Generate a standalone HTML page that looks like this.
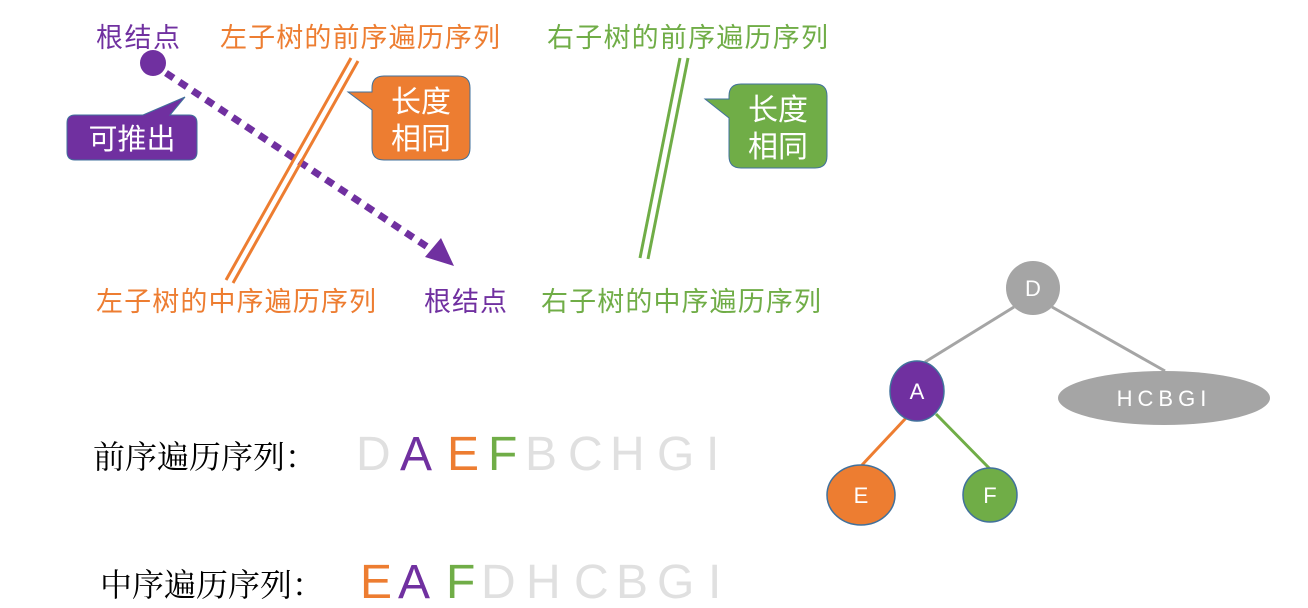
<!DOCTYPE html>
<html><head><meta charset="utf-8"><style>
html,body{margin:0;padding:0;background:#fff;}
svg{display:block}
.cn{font-family:"Liberation Sans","Noto Sans CJK SC",sans-serif;}
.sr{font-family:"Noto Serif CJK SC",serif;}
.lt{font-family:"Liberation Sans",sans-serif;}
</style></head><body>
<svg width="1308" height="608" viewBox="0 0 1308 608" xmlns="http://www.w3.org/2000/svg">
<g class="cn" font-size="27">
<text x="96" y="47" fill="#7030a0" textLength="84">根结点</text>
<text x="220" y="47" fill="#ed7d31" textLength="280">左子树的前序遍历序列</text>
<text x="547" y="47" fill="#70ad47" textLength="281">右子树的前序遍历序列</text>
<text x="96" y="311" fill="#ed7d31" textLength="280">左子树的中序遍历序列</text>
<text x="424" y="311" fill="#7030a0" textLength="83">根结点</text>
<text x="541" y="311" fill="#70ad47" textLength="280">右子树的中序遍历序列</text>
</g>
<circle cx="153" cy="63" r="13" fill="#7030a0"/>
<line x1="166" y1="73" x2="432" y2="250" stroke="#7030a0" stroke-width="7" stroke-dasharray="9,7"/>
<polygon points="454,266 425,257 441,238" fill="#7030a0"/>
<line x1="351" y1="58" x2="226" y2="280" stroke="#ed7d31" stroke-width="3"/>
<line x1="358" y1="61" x2="233" y2="283" stroke="#ed7d31" stroke-width="3"/>
<line x1="680" y1="58" x2="640" y2="258" stroke="#70ad47" stroke-width="3"/>
<line x1="688" y1="58" x2="648" y2="259" stroke="#70ad47" stroke-width="3"/>
<path d="M75,115 H143 L185,97 L170,115 H189 Q197,115 197,123 V152 Q197,160 189,160 H75 Q67,160 67,152 V123 Q67,115 75,115 Z" fill="#7030a0" stroke="#41719c" stroke-width="1"/>
<text class="cn" x="132" y="149" font-size="29" fill="#fff" text-anchor="middle">可推出</text>
<path d="M384,76 H458 Q470,76 470,88 V148 Q470,160 458,160 H384 Q372,160 372,148 V110 L348,92 L372,92 V88 Q372,76 384,76 Z" fill="#ed7d31" stroke="#41719c" stroke-width="1"/>
<text class="cn" x="421" y="112" font-size="30" fill="#fff" text-anchor="middle">长度</text>
<text class="cn" x="421" y="149" font-size="30" fill="#fff" text-anchor="middle">相同</text>
<path d="M741,84 H815 Q827,84 827,96 V156 Q827,168 815,168 H741 Q729,168 729,156 V118 L705,99 L729,99 V96 Q729,84 741,84 Z" fill="#70ad47" stroke="#41719c" stroke-width="1"/>
<text class="cn" x="778" y="120" font-size="30" fill="#fff" text-anchor="middle">长度</text>
<text class="cn" x="778" y="157" font-size="30" fill="#fff" text-anchor="middle">相同</text>
<line x1="1014" y1="307" x2="925" y2="362" stroke="#a5a5a5" stroke-width="3"/>
<line x1="1052" y1="307" x2="1165" y2="371" stroke="#a5a5a5" stroke-width="3"/>
<line x1="906" y1="418" x2="862" y2="465" stroke="#ed7d31" stroke-width="3"/>
<line x1="936" y1="414" x2="990" y2="469" stroke="#70ad47" stroke-width="3"/>
<circle cx="1033" cy="288" r="27" fill="#a5a5a5"/>
<text class="lt" x="1033" y="296" font-size="22" fill="#fff" text-anchor="middle">D</text>
<ellipse cx="917" cy="391" rx="27" ry="30" fill="#7030a0" stroke="#41719c" stroke-width="1.5"/>
<text class="lt" x="917" y="399" font-size="22" fill="#fff" text-anchor="middle">A</text>
<ellipse cx="1164" cy="398" rx="106" ry="27" fill="#a5a5a5"/>
<text class="lt" x="1164" y="406" font-size="22" fill="#fff" text-anchor="middle" letter-spacing="5">HCBGI</text>
<ellipse cx="861" cy="495" rx="34" ry="30" fill="#ed7d31" stroke="#41719c" stroke-width="1.5"/>
<text class="lt" x="861" y="503" font-size="22" fill="#fff" text-anchor="middle">E</text>
<ellipse cx="990" cy="495" rx="27" ry="27" fill="#70ad47" stroke="#41719c" stroke-width="1.5"/>
<text class="lt" x="990" y="503" font-size="22" fill="#fff" text-anchor="middle">F</text>
<text class="sr" x="93" y="468" font-size="32" fill="#000">前序遍历序列：</text>
<g class="lt" font-size="48">
<text x="356" y="470" fill="#e0e0e0">D</text>
<text x="400" y="470" fill="#7030a0">A</text>
<text x="447" y="470" fill="#ed7d31">E</text>
<text x="488" y="470" fill="#70ad47">F</text>
<text x="525" y="470" fill="#e0e0e0">B</text>
<text x="568" y="470" fill="#e0e0e0">C</text>
<text x="610" y="470" fill="#e0e0e0">H</text>
<text x="657" y="470" fill="#e0e0e0">G</text>
<text x="706" y="470" fill="#e0e0e0">I</text>
</g>
<text class="sr" x="100" y="596" font-size="32" fill="#000">中序遍历序列：</text>
<g class="lt" font-size="48">
<text x="360" y="598" fill="#ed7d31">E</text>
<text x="398" y="598" fill="#7030a0">A</text>
<text x="446" y="598" fill="#70ad47">F</text>
<text x="481" y="598" fill="#e0e0e0">D</text>
<text x="526" y="598" fill="#e0e0e0">H</text>
<text x="574" y="598" fill="#e0e0e0">C</text>
<text x="616" y="598" fill="#e0e0e0">B</text>
<text x="657" y="598" fill="#e0e0e0">G</text>
<text x="708" y="598" fill="#e0e0e0">I</text>
</g>
</svg>
</body></html>
